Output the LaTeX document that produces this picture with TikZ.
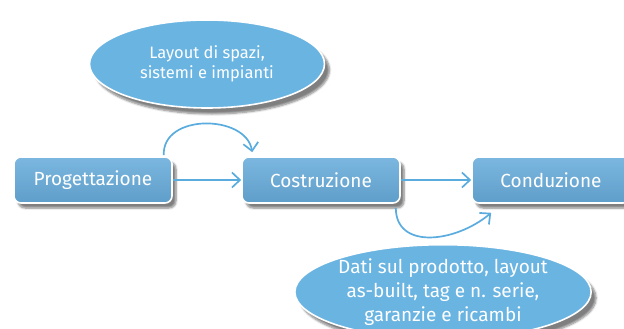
\documentclass[tikz,border=0pt]{standalone}
\usepackage{fontspec}
\setmainfont{Fira Sans}
\usetikzlibrary{shapes.geometric,shadows.blur,arrows.meta}
\definecolor{boxtop}{HTML}{7BB7DF}
\definecolor{boxbot}{HTML}{5F9ECA}
\definecolor{ellfill}{HTML}{6AB4E2}
\definecolor{flow}{HTML}{5AACDF}
\begin{document}
\begin{tikzpicture}[x=1pt,y=-1pt,
  stage/.style={rectangle, rounded corners=7pt, draw=white, line width=1.6pt,
    top color=boxtop, bottom color=boxbot, minimum width=158pt, minimum height=46pt,
    text=white, font=\fontsize{19}{22}\selectfont,
    blur shadow={shadow xshift=4pt, shadow yshift=-5pt, shadow blur steps=6, shadow opacity=50}},
  note/.style={ellipse, draw=white, line width=1.6pt, fill=ellfill,
    text=white, align=center, inner sep=0pt,
    blur shadow={shadow xshift=5pt, shadow yshift=-6pt, shadow blur steps=6, shadow opacity=50}},
  flowarrow/.style={draw=flow, line width=1.7pt, -{Straight Barb[length=8pt,width=15pt]}}
]
\useasboundingbox (0,0) rectangle (624,329);
\node[note, minimum width=235pt, minimum height=88pt, font=\fontsize{16.5}{20}\selectfont] (layout) at (207,64)
  {Layout di spazi,\\sistemi e impianti};
\node[note, minimum width=286pt, minimum height=88pt, font=\fontsize{19}{24}\selectfont] (dati) at (443,292)
  {Dati sul prodotto, layout\\as-built, tag e n. serie,\\garanzie e ricambi};
\node[stage] (prog) at (93,180) {Progettazione};
\node[stage] (costr) at (321,180) {Costruzione};
\node[stage] (cond) at (551,180) {Conduzione};
\draw[flowarrow] (prog) -- (costr);
\draw[flowarrow] (costr) -- (cond);
\draw[flowarrow] ([xshift=-9pt,yshift=1pt]prog.north east) .. controls +(-2,-42) and +(-6,-38) .. ([xshift=11pt,yshift=4pt]costr.north west);
\draw[flowarrow] ([xshift=-5pt,yshift=-4pt]costr.south east) .. controls +(0,42) and +(-36,30) .. ([xshift=20pt,yshift=-9pt]cond.south west);
\end{tikzpicture}
\end{document}
